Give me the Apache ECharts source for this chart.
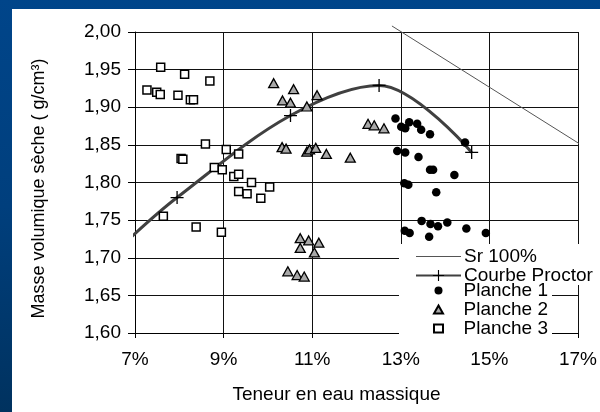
<!DOCTYPE html>
<html>
<head>
<meta charset="utf-8">
<script src="https://cdn.jsdelivr.net/npm/echarts@6/dist/echarts.min.js"></script>
<style>
  html, body { margin: 0; padding: 0; }
  body {
    width: 600px; height: 412px; overflow: hidden; position: relative;
    background: linear-gradient(180deg, #00458a 0%, #003f7d 50%, #00325f 100%);
  }
  #panel { position: absolute; left: 12px; top: 9px; right: 0; bottom: 0; background: #fff; }
  #chart { position: absolute; left: 0; top: 0; width: 600px; height: 412px; }
</style>
</head>
<body>
<div id="panel"></div>
<div id="chart"></div>
<script>
// Water content (%) tick labels
const xTickValues = [7, 9, 11, 13, 15, 17];

// Saturation line Sr = 100 %
const sr100 = [[12.80, 2.008], [17.18, 1.846]];

// Proctor compaction curve: [water content %, dry density g/cm3]
const proctor = [[6.85, 1.724], [7.95, 1.780], [10.51, 1.889], [12.51, 1.929], [14.60, 1.840]];

// Field measurements, board 1
const planche1 = [
  [12.88, 1.885], [13.01, 1.874], [13.10, 1.872], [13.19, 1.880], [13.37, 1.878],
  [13.46, 1.870], [13.66, 1.864], [14.45, 1.853], [12.92, 1.842], [13.10, 1.840],
  [13.40, 1.834], [13.66, 1.817], [13.73, 1.817], [14.21, 1.810], [13.08, 1.799],
  [13.17, 1.797], [13.80, 1.787], [13.47, 1.749], [13.67, 1.745], [13.84, 1.742],
  [14.05, 1.747], [14.48, 1.739], [14.92, 1.733], [13.09, 1.736], [13.20, 1.733],
  [13.64, 1.728]
];

// Field measurements, board 2
const planche2 = [
  [10.13, 1.932], [10.58, 1.924], [10.33, 1.909], [10.51, 1.906], [10.88, 1.901],
  [11.11, 1.916], [12.26, 1.878], [12.40, 1.876], [12.62, 1.872], [10.32, 1.847],
  [10.41, 1.845], [10.88, 1.841], [10.94, 1.844], [11.08, 1.846], [11.32, 1.838],
  [11.86, 1.833], [10.73, 1.726], [10.92, 1.723], [11.15, 1.720], [10.73, 1.713],
  [11.05, 1.707], [10.45, 1.682], [10.66, 1.677], [10.82, 1.675]
];

// Field measurements, board 3
const planche3 = [
  [7.58, 1.953], [8.12, 1.944], [8.69, 1.935], [7.27, 1.923], [7.49, 1.920],
  [7.57, 1.917], [7.97, 1.916], [8.25, 1.910], [8.32, 1.910], [8.59, 1.851],
  [9.06, 1.844], [8.04, 1.832], [8.08, 1.831], [9.34, 1.838], [8.79, 1.820],
  [8.97, 1.817], [9.23, 1.808], [9.34, 1.811], [9.63, 1.800], [10.04, 1.794],
  [9.34, 1.788], [9.53, 1.785], [9.84, 1.779], [7.64, 1.755], [8.38, 1.741],
  [8.95, 1.734]
];

const FONT = '"Liberation Sans", Arial, sans-serif';
const PLUS = 'path://M5.4,0 H6.6 V5.4 H12 V6.6 H6.6 V12 H5.4 V6.6 H0 V5.4 H5.4 Z';

const proctorData = proctor.map((p, i) => i === 0 ? { value: p, symbol: 'none' } : p);

const legendText = { fontSize: 19, color: '#000', fontFamily: FONT, lineHeight: 17.5 };

const chart = echarts.init(document.getElementById('chart'), null, { renderer: 'canvas' });
chart.setOption({
  animation: false,
  backgroundColor: 'transparent',
  textStyle: { fontFamily: FONT },
  grid: { left: 135, right: 15, top: 32, bottom: 79 },
  xAxis: {
    type: 'value', min: 7, max: 17, interval: 1,
    name: 'Teneur en eau massique',
    nameLocation: 'middle', nameGap: 52,
    nameTextStyle: { fontSize: 19, color: '#000', fontFamily: FONT, padding: [0, 40, 0, 0] },
    axisLine: { show: true, lineStyle: { color: '#000', width: 1 } },
    axisTick: { show: true, length: 5, customValues: xTickValues, lineStyle: { color: '#000' } },
    axisLabel: {
      customValues: xTickValues, margin: 17, fontSize: 19, color: '#000', fontFamily: FONT,
      formatter: v => v + '%'
    },
    splitLine: { show: true, lineStyle: { color: '#111', width: 1 } }
  },
  yAxis: {
    type: 'value', min: 1.6, max: 2.0, interval: 0.05,
    name: 'Masse volumique sèche ( g/cm³)',
    nameLocation: 'middle', nameGap: 87,
    nameTextStyle: { fontSize: 18, color: '#000', fontFamily: FONT, padding: [0, 12, 0, 0] },
    axisLine: { show: true, lineStyle: { color: '#000', width: 1 } },
    axisTick: { show: true, length: 7, lineStyle: { color: '#000' } },
    axisLabel: {
      margin: 14, fontSize: 19, color: '#000', fontFamily: FONT,
      formatter: v => v.toFixed(2).replace('.', ',')
    },
    splitLine: { show: true, lineStyle: { color: '#111', width: 1 } }
  },
  legend: [
    {
      orient: 'vertical', left: 399, top: 244,
      padding: [3, 4, 0, 16], itemGap: 0, itemWidth: 45, itemHeight: 14,
      backgroundColor: '#fff', selectedMode: false,
      textStyle: Object.assign({ padding: [0, 0, 0, -2] }, legendText),
      data: [
        { name: 'Sr 100%', icon: 'path://M0,0 H45 V1 H0 Z' },
        { name: 'Courbe Proctor' }
      ]
    },
    {
      orient: 'vertical', left: 399, top: 281,
      padding: [0, 4, 0, 34], itemGap: 0, itemWidth: 9, itemHeight: 8,
      backgroundColor: '#fff', selectedMode: false,
      textStyle: Object.assign({ padding: [0, 0, 0, 15.5] }, legendText),
      data: ['Planche 1', 'Planche 2', 'Planche 3']
    }
  ],
  series: [
    {
      name: 'Sr 100%', type: 'line', data: sr100, clip: false,
      symbol: 'none', itemStyle: { color: '#555' },
      lineStyle: { color: '#555', width: 1 }, z: 3
    },
    {
      name: 'Courbe Proctor', type: 'line', data: proctorData, clip: false,
      smooth: 0.35, symbol: PLUS, symbolSize: 13,
      itemStyle: { color: '#000' },
      lineStyle: { color: '#404040', width: 3 }, z: 3
    },
    {
      name: 'Planche 1', type: 'scatter', data: planche1,
      symbol: 'circle', symbolSize: 8.5,
      itemStyle: { color: '#000', opacity: 1 }, z: 4
    },
    {
      name: 'Planche 2', type: 'scatter', data: planche2,
      symbol: 'triangle', symbolSize: [10, 9], symbolKeepAspect: true,
      itemStyle: { color: '#a8a8a8', borderColor: '#000', borderWidth: 1.3, opacity: 1 }, z: 4
    },
    {
      name: 'Planche 3', type: 'scatter', data: planche3,
      symbol: 'rect', symbolSize: 8, symbolKeepAspect: true,
      itemStyle: { color: '#fff', borderColor: '#000', borderWidth: 1.5, opacity: 1 }, z: 4
    }
  ]
});
</script>
</body>
</html>
